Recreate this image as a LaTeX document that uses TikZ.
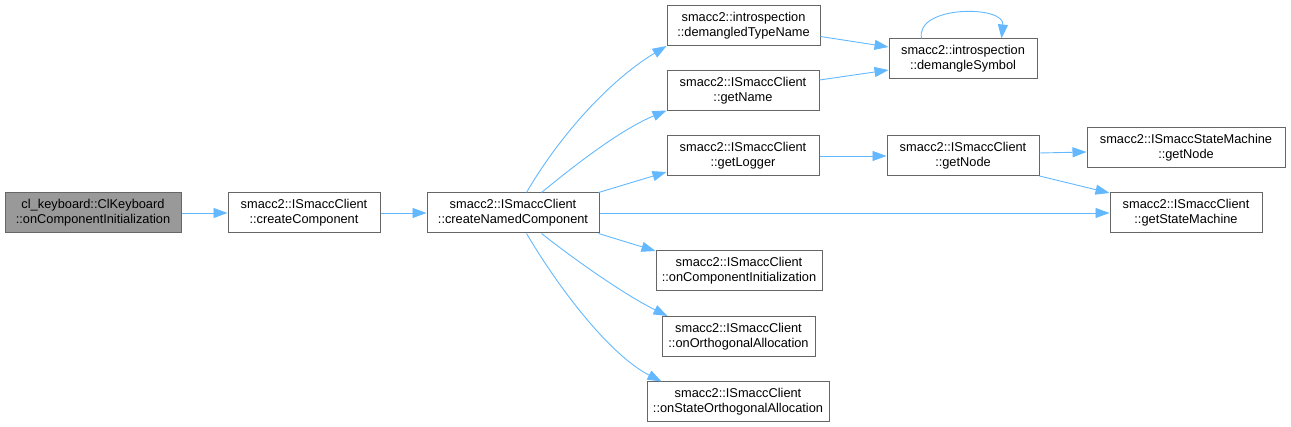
\documentclass[tikz,border=0pt]{standalone}
\usepackage{fontspec}
\setmainfont{Liberation Sans}
\usetikzlibrary{arrows.meta,calc}
\definecolor{edgeblue}{HTML}{63B8FF}
\definecolor{boxgray}{HTML}{666666}
\definecolor{rootfill}{HTML}{999999}
\begin{document}
\begin{tikzpicture}[x=1pt,y=-1pt,
  fn/.style={draw=boxgray, line width=1pt, fill=white, rectangle, align=center,
    inner sep=0pt, font=\fontsize{12.8}{15}\selectfont, minimum height=40pt},
  rootfn/.style={fn, fill=rootfill},
  call/.style={draw=edgeblue, line width=0.9pt, -{Triangle[length=14pt,width=10pt]}}]
\useasboundingbox (0,0) rectangle (1291,427);
\node[rootfn, minimum width=176pt] (root) at (93,213) {cl\_keyboard::ClKeyboard\\::onComponentInitialization};
\node[fn, minimum width=152pt] (cc) at (304,213) {smacc2::ISmaccClient\\::createComponent};
\node[fn, minimum width=172pt] (cnc) at (513,213) {smacc2::ISmaccClient\\::createNamedComponent};
\node[fn, minimum width=153pt] (dtn) at (743.5,25.5) {smacc2::introspection\\::demangledTypeName};
\node[fn, minimum width=152pt] (gn) at (743,91) {smacc2::ISmaccClient\\::getName};
\node[fn, minimum width=152pt] (gl) at (743,156) {smacc2::ISmaccClient\\::getLogger};
\node[fn, minimum width=148pt] (ds) at (963,59) {smacc2::introspection\\::demangleSymbol};
\node[fn, minimum width=152pt] (gnode) at (963,156) {smacc2::ISmaccClient\\::getNode};
\node[fn, minimum width=198pt] (smnode) at (1186,148) {smacc2::ISmaccStateMachine\\::getNode};
\node[fn, minimum width=152pt] (gsm) at (1186,213) {smacc2::ISmaccClient\\::getStateMachine};
\node[fn, minimum width=166pt] (oci) at (739,271) {smacc2::ISmaccClient\\::onComponentInitialization};
\node[fn, minimum width=153pt] (ooa) at (738.5,336.5) {smacc2::ISmaccClient\\::onOrthogonalAllocation};
\node[fn, minimum width=182pt] (osoa) at (738,402) {smacc2::ISmaccClient\\::onStateOrthogonalAllocation};

\draw[call] (root.east) -- (cc.west);
\draw[call] (cc.east) -- (cnc.west);
\draw[call] ($(cnc.north west)+(100,0)$) .. controls (560,135) and (610,80) .. ($(dtn.south west)+(0,0)$);
\draw[call] ($(cnc.north west)+(115,0)$) .. controls (575,165) and (620,130) .. ($(gn.south west)+(0,-1)$);
\draw[call] ($(cnc.north east)+(-1,0)$) -- ($(gl.west)+(0,16)$);
\draw[call] (cnc.east) -- (gsm.west);
\draw[call] ($(cnc.south east)+(-1,0)$) -- ($(oci.west)+(0,-20)$);
\draw[call] ($(cnc.south west)+(115,0)$) .. controls (575,260) and (625,295) .. ($(ooa.north west)+(6,0)$);
\draw[call] ($(cnc.south west)+(100,0)$) .. controls (560,290) and (610,355) .. ($(osoa.north west)+(15,0)$);
\draw[call] ($(dtn.east)+(0,11)$) -- ($(ds.west)+(0,-12)$);
\draw[call] ($(gn.east)+(0,-11)$) -- ($(ds.west)+(0,11)$);
\draw[call] (gl.east) -- (gnode.west);
\draw[call] ($(gnode.east)+(0,-3)$) -- ($(smnode.west)+(0,4)$);
\draw[call] ($(gnode.east)+(0,20)$) -- ($(gsm.west)+(0,-20)$);
\draw[call] ($(ds.north west)+(33,0)$) .. controls (915,5) and (1005,5) .. ($(ds.north west)+(113,0)$);
\end{tikzpicture}
\end{document}
